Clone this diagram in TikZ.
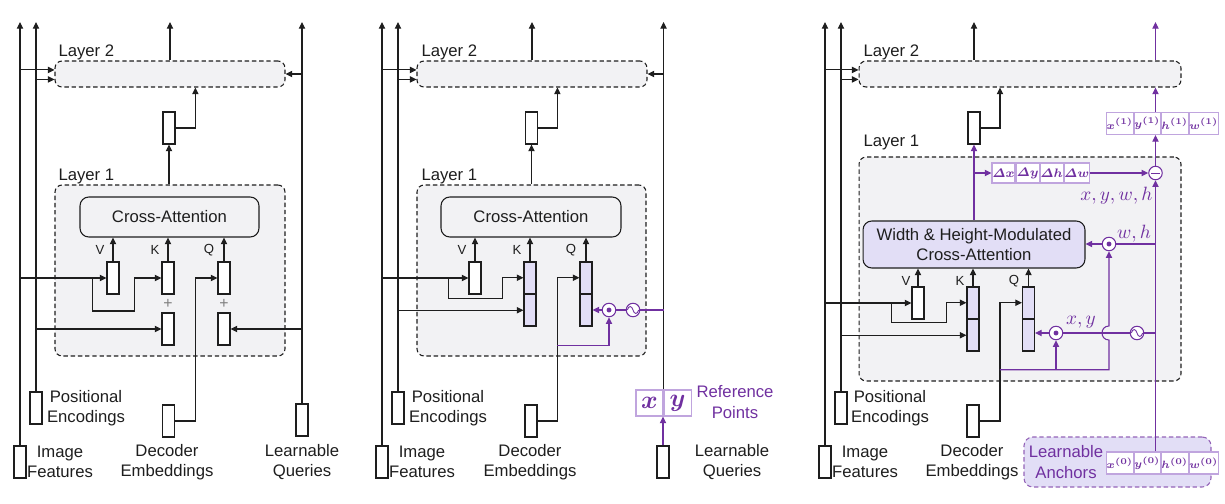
\documentclass[tikz,border=0pt]{standalone}
\usepackage[no-math]{fontspec}
\setmainfont{Liberation Sans}
\usepackage{amsmath}
\usetikzlibrary{arrows.meta, positioning, calc}
\definecolor{InkGray}{RGB}{30, 30, 30}
\definecolor{AnchorPurple}{RGB}{112, 48, 160}
\definecolor{CellPurple}{RGB}{192, 165, 222}
\definecolor{PaleLilac}{RGB}{226, 222, 246}
\definecolor{LayerGray}{RGB}{242, 242, 244}
\newcommand{\labfont}{\fontsize{9.5}{11.5}\selectfont}

\begin{document}
\begin{tikzpicture}[x=0.02cm, y=-0.02cm, line width=0.6pt, InkGray,
    arr/.style={-{Triangle[length=3.8pt,width=3.6pt]}},
    vec/.style={draw=InkGray, fill=white, minimum width=0.24cm, minimum height=0.64cm, inner sep=0pt},
    tallvec/.style={vec, fill=PaleLilac, minimum height=1.28cm},
    layerbox/.style={draw=InkGray, dash pattern=on 2.5pt off 1.6pt, rounded corners=4pt, fill=LayerGray, inner sep=0pt},
    anchorbox/.style={draw=AnchorPurple!75, dash pattern=on 2.5pt off 1.6pt, rounded corners=5pt, fill=PaleLilac, inner sep=0pt},
    attbox/.style={draw=InkGray, rounded corners=5pt, fill=LayerGray, inner sep=0pt, align=center, font=\labfont},
    txt/.style={font=\labfont, align=center, inner sep=0pt},
    qkv/.style={font=\fontsize{7.5}{8}\selectfont, inner sep=0pt},
    mathlab/.style={text=AnchorPurple, font=\fontsize{10.5}{11}\selectfont, inner sep=0pt},
    cella/.style={draw=CellPurple, fill=white, text=AnchorPurple, minimum width=0.54cm, minimum height=0.52cm, inner sep=0pt, font=\fontsize{14}{14}\selectfont},
    cellb/.style={cella, minimum width=0.475cm, minimum height=0.44cm, font=\fontsize{6.2}{7}\selectfont},
    celld/.style={cella, minimum width=0.46cm, minimum height=0.4cm, font=\fontsize{6.8}{7}\selectfont},
    opnode/.style={circle, draw=AnchorPurple, fill=white, minimum size=0.27cm, inner sep=0pt},
    mulop/.style={opnode, path picture={\fill[AnchorPurple] (path picture bounding box.center) circle (1.4pt);}},
    subop/.style={opnode, path picture={\draw[AnchorPurple, line width=0.5pt] ([xshift=-2.4pt]path picture bounding box.center) -- ([xshift=2.4pt]path picture bounding box.center);}},
    sinop/.style={opnode, path picture={\draw[AnchorPurple, line width=0.5pt] ([xshift=-3.2pt]path picture bounding box.center) .. controls ([xshift=-2.5pt,yshift=2.6pt]path picture bounding box.center) and ([xshift=-0.7pt,yshift=2.6pt]path picture bounding box.center) .. (path picture bounding box.center) .. controls ([xshift=0.7pt,yshift=-2.6pt]path picture bounding box.center) and ([xshift=2.5pt,yshift=-2.6pt]path picture bounding box.center) .. ([xshift=3.2pt]path picture bounding box.center);}}]
    \useasboundingbox (0,0) rectangle (1225,504);
    \coordinate (top) at (0,22);

    % ---------- panel 1: plain decoder ----------
    \node[vec] (imgA) at (20,462) {};
    \node[txt] (imgAtxt) at (60,462) {Image\\Features};
    \node[vec] (posA) at (36,408) {};
    \node[txt] (posAtxt) at (86,408) {Positional\\Encodings};
    \node[vec] (decA) at (168.5,421) {};
    \node[txt] (decAtxt) at (167,462) {Decoder\\Embeddings};
    \node[vec] (qryA) at (302,420) {};
    \node[txt] (qryAtxt) at (302,462) {Learnable\\Queries};

    \node[layerbox, minimum width=4.6cm, minimum height=0.52cm] (L2A) at (170,74) {};
    \node[txt, anchor=base west] (L2Alab) at (58,56) {Layer 2};
    \node[layerbox, minimum width=4.6cm, minimum height=3.42cm] (L1A) at (170,270.5) {};
    \node[txt, anchor=base west] (L1Alab) at (58,180) {Layer 1};
    \node[attbox, minimum width=3.58cm, minimum height=0.8cm] (caA) at (169.5,217) {Cross-Attention};
    \node[vec] (vA) at (113,278) {};
    \node[vec] (kA) at (168,278) {};
    \node[vec] (qA) at (224,278) {};
    \node[vec] (kpA) at (168,329) {};
    \node[vec] (qpA) at (224,329) {};
    \node[qkv] (vAlab) at (100,250) {V};
    \node[qkv] (kAlab) at (155,250) {K};
    \node[qkv] (qAlab) at (209,250) {Q};
    \node[qkv, font=\fontsize{9}{9}\selectfont, text=gray] (kAplus) at (168,303.5) {+};
    \node[qkv, font=\fontsize{9}{9}\selectfont, text=gray] (qAplus) at (224,303.5) {+};
    \node[vec] (hidA) at (169,128) {};

    \coordinate (inA1) at ($(L2A.north west)!0.35!(L2A.south west)$);
    \coordinate (inA2) at ($(L2A.north west)!0.7!(L2A.south west)$);
    \draw[arr] (imgA.north) -- (imgA |- top);
    \draw[arr] (posA.north) -- (posA |- top);
    \draw[arr] (qryA.north) -- (qryA |- top);
    \draw[arr] (imgA |- inA1) -- (inA1);
    \draw[arr] (posA |- inA2) -- (inA2);
    \draw[arr] (qryA |- L2A.east) -- (L2A.east);
    \draw[arr] (L2A.north) -- (L2A |- top);
    \draw[arr] (hidA |- L1A.north) -- (hidA.south);
    \draw[arr] (hidA.east) -| ($(L2A.south west)!0.61!(L2A.south east)$);
    \draw[arr] (vA.north) -- (vA |- caA.south);
    \draw[arr] (kA.north) -- (kA |- caA.south);
    \draw[arr] (qA.north) -- (qA |- caA.south);
    \draw[arr] (imgA |- vA.west) -- (vA.west);
    \draw[arr] ($(vA.west)+(-14,0)$) |- ($(kA.west)+(-27,33)$) |- (kA.west);
    \draw[arr] (posA |- kpA.west) -- (kpA.west);
    \draw[arr] (decA.east) -| ($(qA.west)+(-22,0)$) -- (qA.west);
    \draw[arr] (qryA |- qpA.east) -- (qpA.east);

    % ---------- panel 2: reference points ----------
    \node[vec] (imgB) at (382,462) {};
    \node[txt] (imgBtxt) at (422,462) {Image\\Features};
    \node[vec] (posB) at (398,408) {};
    \node[txt] (posBtxt) at (448,408) {Positional\\Encodings};
    \node[vec] (decB) at (531,421) {};
    \node[txt] (decBtxt) at (530,462) {Decoder\\Embeddings};
    \node[vec] (qryB) at (663,462) {};
    \node[txt] (qryBtxt) at (732,462) {Learnable\\Queries};
    \node[cella] (refx) at (649.5,403) {$\boldsymbol{x}$};
    \node[cella, right=0pt of refx] (refy) {$\boldsymbol{y}$};
    \node[txt, text=AnchorPurple] (refBtxt) at (735,402) {Reference\\Points};

    \node[layerbox, minimum width=4.6cm, minimum height=0.52cm] (L2B) at (532,74) {};
    \node[txt, anchor=base west] (L2Blab) at (421,56) {Layer 2};
    \node[layerbox, minimum width=4.58cm, minimum height=3.42cm] (L1B) at (531.5,270.5) {};
    \node[txt, anchor=base west] (L1Blab) at (421,180) {Layer 1};
    \node[attbox, minimum width=3.6cm, minimum height=0.8cm] (caB) at (531,217) {Cross-Attention};
    \node[vec] (vB) at (475,278) {};
    \node[tallvec] (kB) at (530,294) {};
    \node[tallvec] (qB) at (586,294) {};
    \draw (kB.west) -- (kB.east);
    \draw (qB.west) -- (qB.east);
    \node[qkv] (vBlab) at (462,250) {V};
    \node[qkv] (kBlab) at (517,250) {K};
    \node[qkv] (qBlab) at (571,250) {Q};
    \node[vec] (hidB) at (531.5,128) {};
    \node[mulop] (mulB) at (609,310) {};
    \node[sinop] (sinB) at (633,310) {};

    \coordinate (inB1) at ($(L2B.north west)!0.35!(L2B.south west)$);
    \coordinate (inB2) at ($(L2B.north west)!0.7!(L2B.south west)$);
    \coordinate (kinB) at ($(kB.north west)!0.25!(kB.south west)$);
    \coordinate (kpinB) at ($(kB.north west)!0.75!(kB.south west)$);
    \coordinate (qinB) at ($(qB.north west)!0.25!(qB.south west)$);
    \draw[arr] (imgB.north) -- (imgB |- top);
    \draw[arr] (posB.north) -- (posB |- top);
    \draw[arr] (refx.north east) -- (refx.north east |- top);
    \draw[arr, AnchorPurple] (qryB.north) -- (qryB |- refx.south);
    \draw[arr] (imgB |- inB1) -- (inB1);
    \draw[arr] (posB |- inB2) -- (inB2);
    \draw[arr] (refx.north east |- L2B.east) -- (L2B.east);
    \draw[arr] (L2B.north) -- (L2B |- top);
    \draw[arr] (hidB |- L1B.north) -- (hidB.south);
    \draw[arr] (hidB.east) -| ($(L2B.south west)!0.61!(L2B.south east)$);
    \draw[arr] (vB.north) -- (vB |- caB.south);
    \draw[arr] (kB.north) -- (kB |- caB.south);
    \draw[arr] (qB.north) -- (qB |- caB.south);
    \draw[arr] (imgB |- vB.west) -- (vB.west);
    \draw[arr] ($(vB.west)+(-20,0)$) |- ($(kinB)+(-21,21)$) |- (kinB);
    \draw[arr] (posB |- kpinB) -- (kpinB);
    \draw[arr] (decB.east) -| ($(qinB)+(-22,0)$) -- (qinB);
    \draw[arr, AnchorPurple] ($(qinB)+(-22,68)$) -| (mulB.south);
    \draw[AnchorPurple] (refx.north east |- sinB) -- (sinB.east);
    \draw[AnchorPurple] (sinB.west) -- (mulB.east);
    \draw[arr, AnchorPurple] (mulB.west) -- (mulB -| qB.east);

    % ---------- panel 3: learnable anchors ----------
    \node[vec] (imgC) at (825,462) {};
    \node[txt] (imgCtxt) at (865,462) {Image\\Features};
    \node[vec] (posC) at (841,408) {};
    \node[txt] (posCtxt) at (890,408) {Positional\\Encodings};
    \node[vec] (decC) at (973,421) {};
    \node[txt] (decCtxt) at (972,462) {Decoder\\Embeddings};
    \node[anchorbox, minimum width=3.74cm, minimum height=1cm] (ancC) at (1117.5,462) {};
    \node[txt, text=AnchorPurple] (ancCtxt) at (1066,462) {Learnable\\Anchors};
    \node[cellb] (x0c) at (1119.9,463) {$\boldsymbol{x^{(0)}}$};
    \node[cellb, right=0pt of x0c] (y0c) {$\boldsymbol{y^{(0)}}$};
    \node[cellb, right=0pt of y0c] (h0c) {$\boldsymbol{h^{(0)}}$};
    \node[cellb, right=0pt of h0c] (w0c) {$\boldsymbol{w^{(0)}}$};

    \node[layerbox, minimum width=6.44cm, minimum height=0.52cm] (L2C) at (1020,74) {};
    \node[txt, anchor=base west] (L2Clab) at (863,56) {Layer 2};
    \node[layerbox, minimum width=6.44cm, minimum height=4.48cm] (L1C) at (1020,269) {};
    \node[txt, anchor=base west] (L1Clab) at (863,146) {Layer 1};
    \node[attbox, fill=PaleLilac, minimum width=4.44cm, minimum height=0.94cm] (whC) at (974,244.5) {Width \& Height-Modulated\\Cross-Attention};
    \node[vec] (vC) at (918,303) {};
    \node[tallvec] (kC) at (973,319) {};
    \node[tallvec] (qC) at (1028.5,319) {};
    \draw (kC.west) -- (kC.east);
    \draw (qC.west) -- (qC.east);
    \node[qkv] (vClab) at (906,281) {V};
    \node[qkv] (kClab) at (960,281) {K};
    \node[qkv] (qClab) at (1014,281) {Q};
    \node[vec] (hidC) at (974,128) {};
    \node[celld] (dxc) at (1003.5,173) {$\boldsymbol{\varDelta x}$};
    \node[celld, right=0pt of dxc] (dyc) {$\boldsymbol{\varDelta y}$};
    \node[celld, right=0pt of dyc] (dhc) {$\boldsymbol{\varDelta h}$};
    \node[celld, right=0pt of dhc] (dwc) {$\boldsymbol{\varDelta w}$};
    \node[cellb] (x1c) at (1119.9,123.5) {$\boldsymbol{x^{(1)}}$};
    \node[cellb, right=0pt of x1c] (y1c) {$\boldsymbol{y^{(1)}}$};
    \node[cellb, right=0pt of y1c] (h1c) {$\boldsymbol{h^{(1)}}$};
    \node[cellb, right=0pt of h1c] (w1c) {$\boldsymbol{w^{(1)}}$};
    \node[subop] (subC) at (1155.5,173) {};
    \node[mulop] (mulWH) at (1109,244) {};
    \node[mulop] (mulXY) at (1056,333) {};
    \node[sinop] (sinC) at (1137,333) {};
    \node[mathlab, anchor=east] (xywhlab) at (1153,196) {$x,y,w,h$};
    \node[mathlab] (whlab) at (1134,234) {$w,h$};
    \node[mathlab] (xylab) at (1081,322) {$x,y$};

    \coordinate (inC1) at ($(L2C.north west)!0.35!(L2C.south west)$);
    \coordinate (inC2) at ($(L2C.north west)!0.7!(L2C.south west)$);
    \coordinate (kinC) at ($(kC.north west)!0.25!(kC.south west)$);
    \coordinate (kpinC) at ($(kC.north west)!0.75!(kC.south west)$);
    \coordinate (qinC) at ($(qC.north west)!0.25!(qC.south west)$);
    \coordinate (baseC) at ($(qinC)+(-22,67)$);
    \coordinate (hopC) at (mulWH |- mulXY);
    \draw[arr] (imgC.north) -- (imgC |- top);
    \draw[arr] (posC.north) -- (posC |- top);
    \draw[arr] (imgC |- inC1) -- (inC1);
    \draw[arr] (posC |- inC2) -- (inC2);
    \draw[arr] (hidC |- L2C.north) -- (hidC |- top);
    \draw[arr] (hidC.east) -| ($(L2C.south west)!0.438!(L2C.south east)$);
    \draw[arr, AnchorPurple] (whC.north) -- (hidC.south);
    \draw[arr, AnchorPurple] (hidC |- dxc.west) -- (dxc.west);
    \draw[arr, AnchorPurple] (dwc.east) -- (subC.west);
    \draw[arr, AnchorPurple] (subC |- y0c.north) -- (subC.south);
    \draw[arr, AnchorPurple] (subC.north) -- (subC |- y1c.south);
    \draw[arr, AnchorPurple] (subC |- y1c.north) -- (subC |- L2C.south);
    \draw[arr, AnchorPurple] (subC |- L2C.north) -- (subC |- top);
    \draw[AnchorPurple] (subC |- mulWH) -- (mulWH.east);
    \draw[arr, AnchorPurple] (mulWH.west) -- (mulWH -| whC.east);
    \draw[AnchorPurple] (subC |- sinC) -- (sinC.east);
    \draw[AnchorPurple] (sinC.west) -- (mulXY.east);
    \draw[arr, AnchorPurple] (mulXY.west) -- (mulXY -| qC.east);
    \draw[arr] (vC.north) -- (vC |- whC.south);
    \draw[arr] (kC.north) -- (kC |- whC.south);
    \draw[arr] (qC.north) -- (qC |- whC.south);
    \draw[arr] (imgC |- vC.west) -- (vC.west);
    \draw[arr] ($(vC.west)+(-20,0)$) |- ($(kinC)+(-20,20)$) |- (kinC);
    \draw[arr] (posC |- kpinC) -- (kpinC);
    \draw[arr] (decC.east) -| ($(qinC)+(-22,0)$) -- (qinC);
    \draw[arr, AnchorPurple] (baseC) -- (baseC -| mulWH) -- ($(hopC)+(0,7)$) .. controls +(-9.3,0) and +(-9.3,0) .. ($(hopC)+(0,-7)$) -- (mulWH.south);
    \draw[arr, AnchorPurple] (baseC -| mulXY) -- (mulXY.south);
\end{tikzpicture}
\end{document}
